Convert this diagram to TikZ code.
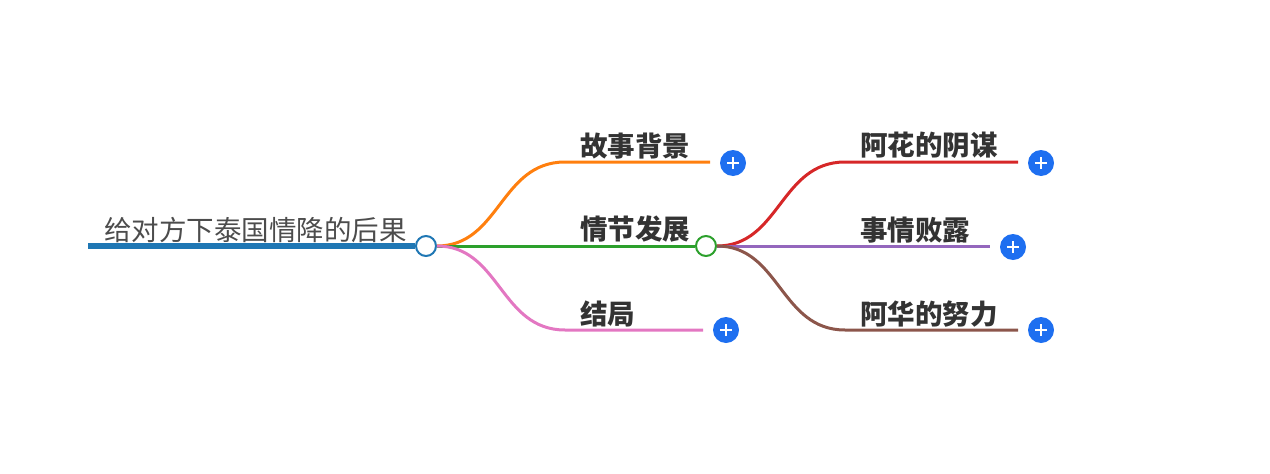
\documentclass[tikz,border=0pt]{standalone}
\usepackage{fontspec}
\newfontfamily\cjk{Noto Sans CJK SC}
\definecolor{cblue}{HTML}{1F77B4}
\definecolor{corange}{HTML}{FF7F0E}
\definecolor{cgreen}{HTML}{2CA02C}
\definecolor{cpink}{HTML}{E377C2}
\definecolor{cred}{HTML}{D62728}
\definecolor{cpurple}{HTML}{9467BD}
\definecolor{cbrown}{HTML}{8C564B}
\definecolor{plusblue}{HTML}{1E6FF0}
\definecolor{txt}{HTML}{333333}
\tikzset{
 lbl/.style={anchor=south west,inner sep=0pt,font=\fontsize{27.5}{28}\cjk\bfseries,text=txt},
 plusn/.style={circle,fill=plusblue,minimum size=26pt,inner sep=0pt,path picture={\draw[white,line width=2.2pt] (path picture bounding box.center)+(-6pt,0)--+(6pt,0);\draw[white,line width=2.2pt] (path picture bounding box.center)+(0,-6pt)--+(0,6pt);}},
 hub/.style={circle,draw,line width=2pt,fill=white,minimum size=20pt,inner sep=0pt},
 br/.style={line width=3pt}
}
\begin{document}
\begin{tikzpicture}[x=1pt,y=-1pt]
\useasboundingbox (0,0) rectangle (1270,474);
\coordinate (rs) at (88,246);
\node[hub,draw=cblue] (root) at (426,246) {};
\draw[cblue,line width=6pt] (rs) -- (root.west);
\node[anchor=south west,inner sep=0pt,font=\fontsize{27.5}{28}\cjk,text=black!70] (rt) at (104,243) {给对方下泰国情降的后果};
\node[hub,draw=cgreen] (mid) at (706,246) {};
% level 1
\coordinate (a1) at (565,162); \coordinate (a2) at (710,162);
\coordinate (c1) at (565,330); \coordinate (c2) at (703,330);
\draw[br,corange] (root.east) .. controls (500,246) and (500,162) .. (a1) -- (a2);
\draw[br,cgreen] (root.east) -- (mid.west);
\draw[br,cpink] (root.east) .. controls (500,246) and (500,330) .. (c1) -- (c2);
\node[lbl] (t1) at (580,159) {故事背景};
\node[lbl] (t2) at (580,243) {情节发展};
\node[lbl] (t3) at (580,327) {结局};
\node[plusn] (p1) at (733,163) {};
\node[plusn] (p3) at (726,330) {};
% level 2
\coordinate (d1) at (845,162); \coordinate (d2) at (1018,162);
\coordinate (e2) at (990,246);
\coordinate (f1) at (845,330); \coordinate (f2) at (1018,330);
\draw[br,cred] (mid.east) .. controls (780,246) and (780,162) .. (d1) -- (d2);
\draw[br,cpurple] (mid.east) -- (e2);
\draw[br,cbrown] (mid.east) .. controls (780,246) and (780,330) .. (f1) -- (f2);
\node[lbl] (u1) at (860,159) {阿花的阴谋};
\node[lbl] (u2) at (860,243) {事情败露};
\node[lbl] (u3) at (860,327) {阿华的努力};
\node[plusn] (q1) at (1041,163) {};
\node[plusn] (q2) at (1013,247) {};
\node[plusn] (q3) at (1041,330) {};
\end{tikzpicture}
\end{document}
